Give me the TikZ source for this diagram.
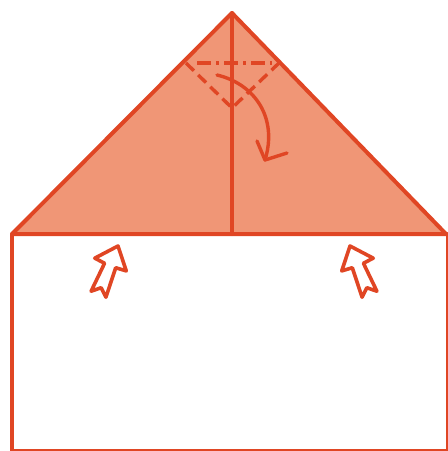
\documentclass[tikz,border=0pt]{standalone}
\usetikzlibrary{calc}
\definecolor{foldred}{RGB}{224,70,36}
\definecolor{foldfill}{RGB}{240,150,118}
\tikzset{
  edge/.style={draw=foldred,line width=4pt,line join=round,line cap=round},
  valley/.style={draw=foldred,line width=3.4pt,dash pattern=on 11pt off 6pt},
  mountain/.style={draw=foldred,line width=3.4pt,dash pattern=on 14pt off 5pt on 3pt off 5pt},
  pusharrow/.style={draw=foldred,line width=3.6pt,line join=round,fill=white},
}
\begin{document}
\begin{tikzpicture}[x=1pt,y=-1pt]
\useasboundingbox (0,0) rectangle (448,451);
\clip (0,0) rectangle (448,451);
% lower rectangle
\draw[edge] (12,234) -- (12,451.3) -- (448.3,451.3) -- (448.3,234);
% upper triangle
\coordinate (apex) at (232,13);
\coordinate (bl) at (12,234);
\coordinate (br) at (446,234);
\filldraw[edge,fill=foldfill] (bl) -- (apex) -- (br) -- cycle;
\draw[edge] (apex) -- (232,234);
% valley fold V
\draw[valley] (186,63) -- (232,108) -- (279,63);
% mountain fold
\draw[mountain] (197,63) -- (272,63);
% curved fold arrow
\draw[edge,line width=3.4pt] (217,75) .. controls (255,84) and (278,118) .. (265,160);
\draw[edge,line width=3.4pt] (257,141) -- (265,160) -- (287,153);
% push arrows
\begin{scope}[shift={(118,246)},rotate=-22]
\draw[pusharrow] (0,0) -- (17,20) -- (6,21) -- (8,52) -- (0,45) -- (-8,52) -- (-6,21) -- (-17,20) -- cycle;
\end{scope}
\begin{scope}[shift={(350,246)},rotate=22]
\draw[pusharrow] (0,0) -- (17,20) -- (6,21) -- (8,52) -- (0,45) -- (-8,52) -- (-6,21) -- (-17,20) -- cycle;
\end{scope}
\end{tikzpicture}
\end{document}
